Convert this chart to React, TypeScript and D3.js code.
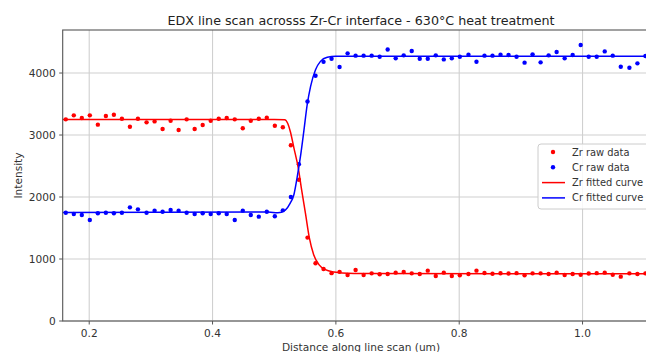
import React, { useEffect, useRef } from 'react';
import * as d3 from 'd3';

// Distance along the line scan (um), one value per measurement
const distance = [
  0.162, 0.175, 0.188, 0.201, 0.214, 0.227, 0.240, 0.253, 0.266, 0.279,
  0.293, 0.306, 0.319, 0.332, 0.345, 0.358, 0.371, 0.384, 0.397, 0.410,
  0.423, 0.436, 0.449, 0.462, 0.475, 0.488, 0.501, 0.514, 0.527, 0.540,
  0.554, 0.567, 0.580, 0.593, 0.606, 0.619, 0.632, 0.645, 0.658, 0.671,
  0.684, 0.697, 0.710, 0.723, 0.736, 0.749, 0.762, 0.775, 0.788, 0.801,
  0.815, 0.828, 0.841, 0.854, 0.867, 0.880, 0.893, 0.906, 0.919, 0.932,
  0.945, 0.958, 0.971, 0.984, 0.997, 1.010, 1.023, 1.036, 1.049, 1.062,
  1.076, 1.089, 1.102,
];

const zrRaw = [
  3253, 3317, 3274, 3317, 3167, 3306, 3328, 3263, 3134, 3263,
  3204, 3220, 3097, 3231, 3081, 3253, 3097, 3161, 3231, 3263,
  3274, 3253, 3108, 3231, 3263, 3280, 3150, 3125, 2835, 2278,
  1345, 932, 840, 772, 793, 742, 823, 742, 769, 753,
  758, 780, 790, 769, 758, 812, 726, 780, 726, 737,
  758, 812, 775, 762, 770, 765, 772, 737, 769, 769,
  758, 780, 742, 758, 747, 766, 772, 780, 747, 715,
  769, 758, 769,
];

const crRaw = [
  1747, 1726, 1710, 1629, 1737, 1747, 1737, 1747, 1833, 1801,
  1747, 1780, 1763, 1790, 1780, 1747, 1726, 1737, 1726, 1737,
  1726, 1629, 1780, 1710, 1683, 1763, 1690, 1785, 2000, 2530,
  3540, 3955, 4180, 4230, 4097, 4317, 4280, 4280, 4280, 4263,
  4380, 4237, 4285, 4355, 4231, 4231, 4285, 4220, 4237, 4263,
  4296, 4183, 4280, 4280, 4296, 4290, 4263, 4167, 4301, 4172,
  4285, 4339, 4237, 4290, 4452, 4263, 4263, 4349, 4280, 4102,
  4086, 4156, 4274,
];

// fitted curves as [distance, intensity]
const zrFit: [number, number][] = [
  [0.150, 3250], [0.500, 3250], [0.517, 3247], [0.522, 3185], [0.526, 3060],
  [0.532, 2790], [0.539, 2470], [0.544, 2145], [0.551, 1715], [0.557, 1340],
  [0.564, 1070], [0.5725, 910], [0.583, 828], [0.597, 790], [0.610, 775],
  [0.650, 766], [1.130, 762],
];

const crFit: [number, number][] = [
  [0.150, 1752], [0.490, 1758], [0.506, 1746], [0.518, 1790], [0.526, 1900],
  [0.532, 2040], [0.537, 2306], [0.543, 2683], [0.548, 3059], [0.5535, 3489],
  [0.559, 3785], [0.567, 4053], [0.575, 4188], [0.586, 4253], [0.600, 4269],
  [1.130, 4272],
];

const xTicks = [0.2, 0.4, 0.6, 0.8, 1.0];
const yTicks = [0, 1000, 2000, 3000, 4000];

const legendItems = [
  { label: 'Zr raw data', color: '#ff0000', kind: 'dot' },
  { label: 'Cr raw data', color: '#0000ff', kind: 'dot' },
  { label: 'Zr fitted curve', color: '#ff0000', kind: 'line' },
  { label: 'Cr fitted curve', color: '#0000ff', kind: 'line' },
];

const App: React.FC = () => {
  const svgRef = useRef<SVGSVGElement>(null);

  useEffect(() => {
    if (!svgRef.current) return;
    const svg = d3.select(svgRef.current);
    svg.selectAll('*').remove();

    const font = 'DejaVu Sans, sans-serif';
    const fs = 10.6;
    const left = 62.7, top = 30, right = 659, bottom = 321;

    const x = d3.scaleLinear().domain([0.157, 1.124]).range([left, right]);
    const y = d3.scaleLinear().domain([0, 4694]).range([bottom, top]);

    svg.append('clipPath').attr('id', 'plot-clip')
      .append('rect')
      .attr('x', left).attr('y', top)
      .attr('width', right - left).attr('height', bottom - top);

    // grid
    const grid = svg.append('g').attr('stroke', '#d0d0d0').attr('stroke-width', 1.1);
    grid.selectAll('.gx').data(xTicks).join('line')
      .attr('x1', d => x(d)).attr('x2', d => x(d))
      .attr('y1', top).attr('y2', bottom);
    grid.selectAll('.gy').data(yTicks).join('line')
      .attr('x1', left).attr('x2', right)
      .attr('y1', d => y(d)).attr('y2', d => y(d));

    const plot = svg.append('g').attr('clip-path', 'url(#plot-clip)');

    // raw data points
    plot.append('g').selectAll('circle').data(distance).join('circle')
      .attr('cx', d => x(d)).attr('cy', (d, i) => y(zrRaw[i]))
      .attr('r', 2.2).attr('fill', '#ff0000');
    plot.append('g').selectAll('circle').data(distance).join('circle')
      .attr('cx', d => x(d)).attr('cy', (d, i) => y(crRaw[i]))
      .attr('r', 2.2).attr('fill', '#0000ff');

    // fitted curves
    const line = d3.line<[number, number]>()
      .x(d => x(d[0])).y(d => y(d[1]))
      .curve(d3.curveMonotoneX);
    plot.append('path').attr('d', line(zrFit))
      .attr('fill', 'none').attr('stroke', '#ff0000').attr('stroke-width', 1.5);
    plot.append('path').attr('d', line(crFit))
      .attr('fill', 'none').attr('stroke', '#0000ff').attr('stroke-width', 1.5);

    // frame
    svg.append('rect')
      .attr('x', left).attr('y', top)
      .attr('width', right - left).attr('height', bottom - top)
      .attr('fill', 'none').attr('stroke', '#555').attr('stroke-width', 1.1);

    // ticks and tick labels
    const ticks = svg.append('g').attr('font-family', font).attr('font-size', fs).attr('fill', '#333');
    ticks.selectAll('.tx').data(xTicks).join('line')
      .attr('x1', d => x(d)).attr('x2', d => x(d))
      .attr('y1', bottom).attr('y2', bottom + 3.5)
      .attr('stroke', '#555');
    ticks.selectAll('.lx').data(xTicks).join('text')
      .attr('x', d => x(d)).attr('y', bottom + 12)
      .attr('text-anchor', 'middle').attr('dominant-baseline', 'central')
      .text(d => d.toFixed(1));
    ticks.selectAll('.ty').data(yTicks).join('line')
      .attr('x1', left - 3.5).attr('x2', left)
      .attr('y1', d => y(d)).attr('y2', d => y(d))
      .attr('stroke', '#555');
    ticks.selectAll('.ly').data(yTicks).join('text')
      .attr('x', left - 7).attr('y', d => y(d))
      .attr('text-anchor', 'end').attr('dominant-baseline', 'central')
      .text(d => String(d));

    // title and axis labels
    svg.append('text')
      .attr('x', 361).attr('y', 20)
      .attr('text-anchor', 'middle').attr('dominant-baseline', 'central')
      .attr('font-family', font).attr('font-size', 12.7).attr('fill', '#222')
      .text('EDX line scan acrosss Zr-Cr interface - 630°C heat treatment');
    svg.append('text')
      .attr('x', 361).attr('y', 347)
      .attr('text-anchor', 'middle').attr('dominant-baseline', 'central')
      .attr('font-family', font).attr('font-size', fs).attr('fill', '#333')
      .text('Distance along line scan (um)');
    svg.append('text')
      .attr('transform', `translate(18,${(top + bottom) / 2}) rotate(-90)`)
      .attr('text-anchor', 'middle').attr('dominant-baseline', 'central')
      .attr('font-family', font).attr('font-size', fs).attr('fill', '#333')
      .text('Intensity');

    // legend (text kept a touch smaller so it stays inside the picture)
    const legend = svg.append('g').attr('transform', 'translate(538,144)');
    legend.append('rect')
      .attr('width', 124).attr('height', 65).attr('rx', 3)
      .attr('fill', 'white').attr('fill-opacity', 0.85)
      .attr('stroke', '#cccccc');
    const rows = legend.selectAll('.row').data(legendItems).join('g')
      .attr('transform', (d, i) => `translate(0,${8 + i * 15.3})`);
    rows.filter(d => d.kind === 'dot').append('circle')
      .attr('cx', 15).attr('cy', 0).attr('r', 2.2).attr('fill', d => d.color);
    rows.filter(d => d.kind === 'line').append('line')
      .attr('x1', 4).attr('x2', 27).attr('y1', 0).attr('y2', 0)
      .attr('stroke', d => d.color).attr('stroke-width', 1.5);
    rows.append('text')
      .attr('x', 34).attr('y', 0).attr('dominant-baseline', 'central')
      .attr('font-family', font).attr('font-size', 9.9).attr('fill', '#333')
      .text(d => d.label);
  }, []);

  return (
    <svg
      ref={svgRef}
      width={646}
      height={352}
      style={{ position: 'absolute', left: 0, top: 0, background: 'white' }}
    />
  );
};

export default App;
